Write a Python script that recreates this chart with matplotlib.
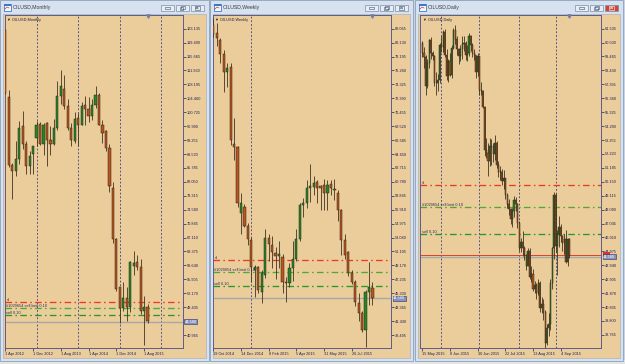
import matplotlib.pyplot as plt
from matplotlib.patches import Rectangle

plt.rcParams['font.family'] = ['Liberation Sans', 'DejaVu Sans']

# ---------------- data ----------------
symbol = 'OILUSD'
titles = ['OILUSD,Monthly', 'OILUSD,Weekly', 'OILUSD,Daily']

# monthly bars, Apr 2012 .. Sep 2015
m_open = [122.8, 104.9, 86.6, 84.9, 88.1, 96.9, 92.1, 86.3, 89.4, 93.9, 97.7, 92.1, 97.9, 93.4,
          92.1, 96.6, 105.0, 107.0, 102.3, 96.6, 93.0, 99.2, 97.4, 102.8, 101.5, 99.7, 102.8, 105.4,
          97.4, 95.7, 91.2, 80.5, 66.7, 53.9, 48.1, 50.8, 48.6, 59.6, 60.6, 59.3, 47.3, 48.6]
m_high = [122.9, 106.6, 87.0, 92.9, 98.3, 101.0, 93.0, 90.3, 91.5, 98.5, 98.2, 97.8, 98.2, 97.0,
          99.0, 109.0, 112.1, 110.7, 104.4, 97.8, 100.8, 100.4, 103.4, 105.2, 104.9, 104.2, 107.7, 105.8,
          98.7, 96.0, 92.1, 82.1, 67.0, 53.9, 55.3, 53.9, 60.9, 63.6, 62.3, 61.4, 51.3, 49.4]
m_low = [105.5, 86.0, 77.4, 83.6, 86.9, 90.9, 84.1, 84.1, 84.1, 91.6, 92.0, 89.3, 86.3, 89.2,
         91.9, 95.9, 103.0, 101.5, 95.9, 91.8, 92.5, 91.7, 97.2, 97.4, 98.0, 98.6, 101.9, 97.2,
         92.5, 90.4, 79.4, 65.7, 52.7, 44.1, 47.3, 44.6, 47.1, 57.0, 58.3, 46.7, 38.2, 44.1]
m_close = [106.0, 86.6, 84.9, 88.1, 96.5, 92.1, 86.3, 88.9, 91.6, 97.4, 92.1, 97.4, 93.4, 92.1,
           96.6, 105.0, 107.7, 102.3, 96.6, 93.4, 98.8, 97.4, 102.3, 101.5, 99.7, 102.8, 105.4, 97.4,
           95.2, 91.2, 81.0, 66.7, 53.4, 48.1, 50.8, 48.6, 60.6, 60.3, 59.3, 47.3, 48.6, 44.6]

# weekly bars, 19 Oct 2014 .. 6 Sep 2015
w_open = [82.6, 81.5, 80.5, 78.6, 76.1, 76.8, 66.1, 65.6, 56.5, 57.3, 54.7, 52.7, 48.6, 48.9,
          45.5, 47.8, 53.0, 52.0, 50.9, 50.5, 50.4, 46.9, 46.7, 48.8, 50.1, 52.9, 57.5, 57.8,
          59.9, 60.1, 60.7, 60.2, 60.3, 59.2, 60.5, 59.8, 59.2, 56.9, 52.7, 51.1, 48.1, 46.9,
          43.9, 42.5, 40.2, 45.5, 46.0]
w_high = [83.5, 82.9, 80.8, 79.1, 77.3, 77.3, 69.7, 65.7, 59.2, 57.7, 55.0, 53.1, 49.2, 49.1,
          48.5, 54.2, 53.6, 53.3, 51.7, 52.5, 50.8, 47.6, 49.5, 52.5, 54.2, 57.9, 58.6, 61.0,
          63.2, 61.6, 61.0, 60.4, 61.2, 61.1, 61.0, 61.2, 59.7, 57.0, 53.6, 51.2, 48.6, 47.2,
          45.3, 42.9, 45.7, 49.7, 46.9]
w_low = [80.9, 79.6, 77.3, 73.3, 74.0, 65.9, 63.8, 57.3, 53.6, 54.5, 52.0, 46.8, 44.8, 45.3,
         43.9, 47.4, 49.8, 48.8, 47.3, 48.8, 45.3, 44.1, 46.2, 47.0, 49.8, 52.5, 55.9, 57.1,
         58.0, 58.9, 57.8, 56.9, 56.9, 56.9, 58.9, 58.3, 55.3, 50.6, 50.1, 47.7, 46.6, 43.5,
         41.4, 39.9, 37.9, 43.7, 43.7]
w_close = [81.3, 80.8, 78.6, 76.1, 76.6, 66.6, 65.6, 57.8, 57.9, 54.7, 52.8, 49.0, 48.9, 45.8,
           48.1, 53.0, 52.2, 51.1, 50.5, 50.7, 46.9, 46.7, 48.8, 50.1, 52.9, 57.5, 57.9, 59.9,
           60.2, 60.6, 59.9, 59.9, 59.2, 60.3, 59.9, 59.7, 56.9, 52.7, 50.6, 48.1, 46.9, 44.1,
           42.5, 40.2, 45.5, 46.2, 44.6]

# daily bars, 15 May 2015 .. 11 Sep 2015
d_open = [60.5, 59.7, 59.4, 57.3, 59.0, 60.7, 59.7, 59.5, 57.5, 57.5, 57.7, 60.3, 60.2, 61.3, 59.6,
          58.0, 59.1, 58.1, 60.1, 61.4, 60.8, 60.0, 59.5, 60.0, 60.4, 60.5, 59.6, 59.7, 61.0, 60.3,
          59.7, 59.6, 58.3, 59.5, 57.0, 56.9, 55.7, 52.5, 52.3, 51.7, 52.8, 52.7, 52.2, 53.0, 51.4,
          50.9, 50.9, 50.2, 50.4, 49.2, 48.5, 48.1, 47.4, 48.0, 48.8, 48.5, 47.1, 45.2, 45.7, 45.2,
          44.7, 43.9, 45.0, 43.1, 43.3, 42.2, 42.5, 41.9, 42.6, 40.8, 41.1, 40.5, 38.2, 39.3, 39.6,
          42.6, 45.2, 49.2, 45.4, 46.3, 46.8, 46.1, 45.6, 45.9, 44.2, 45.9]
d_high = [60.6, 60.2, 59.6, 59.3, 60.8, 60.9, 59.9, 59.6, 58.3, 58.2, 60.5, 61.0, 61.4, 61.5, 60.0,
          59.3, 59.7, 60.3, 61.6, 61.8, 61.0, 60.1, 60.3, 61.0, 61.0, 60.6, 60.3, 61.2, 61.1, 60.5,
          60.0, 59.6, 59.7, 59.5, 57.6, 57.0, 55.8, 53.4, 53.0, 53.4, 53.3, 53.0, 53.6, 53.2, 51.7,
          51.3, 51.1, 51.0, 50.4, 49.3, 48.9, 48.2, 48.2, 49.1, 49.0, 48.6, 47.2, 46.0, 46.5, 45.4,
          44.8, 45.2, 45.2, 43.9, 43.7, 42.8, 42.6, 42.9, 42.8, 41.6, 41.4, 40.6, 39.6, 40.4, 42.9,
          45.3, 49.4, 49.3, 46.6, 47.6, 47.0, 46.2, 46.3, 46.6, 46.0, 46.0]
d_low = [59.4, 58.6, 56.6, 57.1, 58.6, 59.3, 59.2, 57.3, 56.6, 56.9, 57.5, 59.8, 59.8, 59.4, 57.7,
         57.6, 58.0, 57.9, 60.0, 60.4, 59.6, 58.9, 59.1, 59.3, 59.9, 59.2, 59.1, 59.5, 59.9, 59.4,
         59.2, 57.9, 58.0, 56.6, 56.6, 55.6, 52.1, 51.9, 50.6, 51.3, 51.4, 51.6, 51.8, 51.2, 50.5,
         50.3, 49.9, 49.6, 48.9, 48.2, 47.7, 47.0, 46.8, 47.5, 48.0, 46.7, 45.0, 44.9, 44.6, 44.3,
         43.6, 43.9, 42.9, 42.7, 42.0, 41.9, 41.4, 41.7, 40.5, 40.4, 39.9, 37.8, 38.0, 38.7, 39.1,
         42.2, 44.4, 44.9, 43.2, 45.3, 45.7, 45.0, 44.8, 44.1, 43.9, 44.5]
d_close = [59.7, 59.4, 57.3, 59.0, 60.7, 59.7, 59.5, 57.5, 57.5, 57.7, 60.3, 60.2, 61.3, 59.6, 58.0,
           59.1, 58.1, 60.1, 61.4, 60.8, 60.0, 59.5, 60.0, 60.4, 60.5, 59.6, 59.7, 61.0, 60.3, 59.7,
           59.6, 58.3, 59.5, 57.0, 56.9, 55.7, 52.5, 52.3, 51.7, 52.8, 52.7, 52.2, 53.0, 51.4, 50.9,
           50.9, 50.2, 50.4, 49.2, 48.5, 48.1, 47.4, 48.0, 48.8, 48.5, 47.1, 45.2, 45.7, 45.2, 44.7,
           43.9, 45.0, 43.1, 43.3, 42.2, 42.5, 41.9, 42.6, 40.8, 41.1, 40.5, 38.2, 39.3, 39.6, 42.6,
           45.2, 49.2, 45.4, 46.3, 46.8, 46.1, 45.6, 45.9, 44.2, 45.9, 44.6]

# order lines and current prices
order_names = ['sl', '#1029654 sell limit 0.10', 'sell 0.10']
order_levels = [49.90, 48.25, 46.30]
bid = 44.58
ask = 44.70

# axis labels
m_yticks = [123.135, 119.400, 115.665, 111.930, 108.195, 104.460, 100.725, 96.990, 93.255,
            89.520, 85.785, 82.050, 78.315, 74.580, 70.845, 67.110, 63.375, 59.640, 55.905,
            52.170, 48.435, 40.965]
w_yticks = [82.065, 80.130, 78.195, 76.260, 74.325, 72.390, 70.455, 68.520, 66.585, 64.650,
            62.715, 60.780, 58.845, 56.910, 54.975, 53.040, 51.105, 49.170, 47.235, 45.300,
            43.365, 41.430, 39.495]
d_yticks = [61.535, 60.500, 59.465, 58.430, 57.395, 56.360, 55.325, 54.290, 53.255, 52.220,
            51.185, 50.150, 49.115, 48.080, 47.045, 46.010, 44.975, 43.940, 42.905, 41.870,
            40.835, 39.800, 38.765]
m_dates = ['1 Apr 2012', '1 Dec 2012', '1 Aug 2013', '1 Apr 2014', '1 Dec 2014', '1 Aug 2015']
w_dates = ['19 Oct 2014', '14 Dec 2014', '8 Feb 2015', '5 Apr 2015', '31 May 2015', '26 Jul 2015']
d_dates = ['15 May 2015', '8 Jun 2015', '30 Jun 2015', '22 Jul 2015', '13 Aug 2015', '4 Sep 2015']
m_date_idx = [0, 8, 16, 24, 32, 40]
w_date_idx = [0, 8, 16, 24, 32, 40]
d_date_idx = [0, 16, 32, 48, 64, 80]
m_seps = [9, 21, 33, 45]      # new year separators
w_seps = [11]
d_seps = [11, 33, 56, 77]     # new month separators

# ---------------- style ----------------
W, H = 625, 364
TAN = '#ebcd9c'
UP, DN = '#23872a', '#b9561f'
EDGE, WICK = '#2e2414', '#3f3322'
TXT = '#1e1e50'
LINE_COLORS = ['#ec3a22', '#52a832', '#259a2a']

fig = plt.figure(figsize=(6.25, 3.64), dpi=100)
fig.patch.set_facecolor('#c9d2de')


def rect(x0, y0, x1, y1):
    return [x0 / W, 1 - y1 / H, (x1 - x0) / W, (y1 - y0) / H]


# window chrome on a background axes in pixel units
bg = fig.add_axes([0, 0, 1, 1], zorder=0)
bg.set_xlim(0, W)
bg.set_ylim(H, 0)
bg.axis('off')
bg.add_patch(Rectangle((0, 360), W, 4, fc='#e4e4e4', ec='none'))
windows = [(0, 208.5), (210, 413), (415, 623)]
for k, (x0, x1) in enumerate(windows):
    bg.add_patch(Rectangle((x0, 0), x1 - x0, 360.5, fc='#d6e2f0', ec='#8da1bb', lw=0.6))
    bg.add_patch(Rectangle((x0 + 3, 13.5), x1 - x0 - 6, 344.5, fc=TAN, ec='#9aa9bd', lw=0.4))
    # icon
    bg.add_patch(Rectangle((x0 + 3.5, 3.5), 7, 7, fc='#f4f8fc', ec='#3d78c8', lw=0.6))
    bg.add_patch(Rectangle((x0 + 3.5, 3.5), 7, 2, fc='#3d78c8', ec='none'))
    bg.plot([x0 + 5, x0 + 7, x0 + 9], [9, 7, 8], color='#d03a2a', lw=0.5)
    bg.text(x0 + 13, 7.6, titles[k], fontsize=3.7, va='center', ha='left', color='#3b3b3b')
    # min / max / close buttons
    for j, bx in enumerate([x1 - 48, x1 - 33, x1 - 18]):
        red = (k == 2 and j == 2)
        bg.add_patch(Rectangle((bx, 4.5), 13, 6.8, fc='#c9463a' if red else '#e6edf6',
                               ec='#7d8fa8', lw=0.5))
        gc = 'white' if red else '#44546a'
        cx = bx + 6.5
        if j == 0:
            bg.add_patch(Rectangle((cx - 2.5, 7.2), 5, 2, fc='none', ec=gc, lw=0.4))
        elif j == 1:
            bg.add_patch(Rectangle((cx - 2.5, 6.8), 3.6, 2.8, fc='none', ec=gc, lw=0.4))
            bg.add_patch(Rectangle((cx - 1.1, 5.8), 3.6, 2.8, fc='none', ec=gc, lw=0.4))
        else:
            bg.add_patch(Rectangle((cx - 2.5, 6.2), 5, 3.4, fc='none', ec=gc, lw=0.4))
            bg.plot([cx - 1.2, cx + 1.2], [6.9, 8.9], color=gc, lw=0.4)
            bg.plot([cx - 1.2, cx + 1.2], [8.9, 6.9], color=gc, lw=0.4)


def draw_panel(box, xlim, ylim, o, h, l, c, width, yticks, dates, date_idx, seps, title,
               show_ask=False):
    ax = fig.add_axes(rect(*box), zorder=2)
    ax.set_facecolor(TAN)
    n = len(o)
    idx = list(range(n))
    for s in seps:
        ax.axvline(s, color='#3c3c88', lw=0.6, ls=(0, (2.2, 2.2)), zorder=1)
    ax.vlines(idx, l, h, color=WICK, lw=0.6, zorder=3)
    bottoms = [min(a, b) for a, b in zip(o, c)]
    heights = [max(abs(b - a), 0.06 * (ylim[1] - ylim[0]) / 100) for a, b in zip(o, c)]
    colors = [UP if b >= a else DN for a, b in zip(o, c)]
    ax.bar(idx, heights, bottom=bottoms, width=width, color=colors, edgecolor=EDGE,
           linewidth=0.35, zorder=4)
    # order lines
    for name, lev, col in zip(order_names, order_levels, LINE_COLORS):
        ax.axhline(lev, color=col, lw=0.95, ls=(0, (5, 2.5, 1.2, 2.5)), zorder=2)
        ax.text(0.008, lev, name, transform=ax.get_yaxis_transform(), fontsize=2.8,
                color='#2a2a5a', va='bottom', ha='left', zorder=5)
    ax.axhline(bid, color='#a8a8a8', lw=1.0, zorder=2)
    if show_ask:
        ax.axhline(ask, color='#e0402a', lw=0.7, zorder=2)
        ax.text(1.012, ask + 0.06, '      ', transform=ax.get_yaxis_transform(), fontsize=2.8,
                va='center', ha='left', clip_on=False,
                bbox=dict(boxstyle='square,pad=0.15', fc='#e0302a', ec='none'))
    ax.text(1.012, bid, f'{bid:.3f}', transform=ax.get_yaxis_transform(), fontsize=2.8,
            color='white', va='center', ha='left', clip_on=False, zorder=6,
            bbox=dict(boxstyle='square,pad=0.15', fc='#8595c0', ec='#2c2c6c', lw=0.4))
    # chart caption and shift marker
    ax.text(0.012, 0.99, '\u25bc ' + title, transform=ax.transAxes, fontsize=2.8,
            color='#22224a', va='top', ha='left')
    ax.plot([n - 1], [0.997], marker='v', ms=2.4, color='#6f80ad',
            transform=ax.get_xaxis_transform(), clip_on=False, zorder=6)
    ax.set_xlim(*xlim)
    ax.set_ylim(*ylim)
    ax.yaxis.tick_right()
    ax.set_yticks(yticks)
    ax.set_yticklabels([f'{v:.3f}' for v in yticks])
    ax.set_xticks(date_idx)
    ax.set_xticklabels(dates)
    for t in ax.get_xticklabels():
        t.set_ha('left')
    ax.tick_params(axis='y', length=2, width=0.5, pad=0.8, labelsize=2.8, colors=TXT)
    ax.tick_params(axis='x', length=2, width=0.5, pad=1.0, labelsize=2.8, colors=TXT)
    for sp in ax.spines.values():
        sp.set_color('#5c5c8c')
        sp.set_linewidth(0.7)
    return ax


draw_panel((5, 15, 182.5, 348.3), (-0.1, 51.07), (37.40, 126.81),
           m_open, m_high, m_low, m_close, 0.64, m_yticks, m_dates, m_date_idx, m_seps, titles[0])
draw_panel((213, 15, 391, 348.3), (-0.09, 51.36), (37.65, 83.97),
           w_open, w_high, w_low, w_close, 0.64, w_yticks, w_dates, w_date_idx, w_seps, titles[1])
draw_panel((420.5, 15, 601, 348.3), (-1.04, 103.3), (37.77, 62.55),
           d_open, d_high, d_low, d_close, 0.62, d_yticks, d_dates, d_date_idx, d_seps, titles[2],
           show_ask=True)

fig.savefig('out.png', dpi=100, facecolor=fig.get_facecolor())
